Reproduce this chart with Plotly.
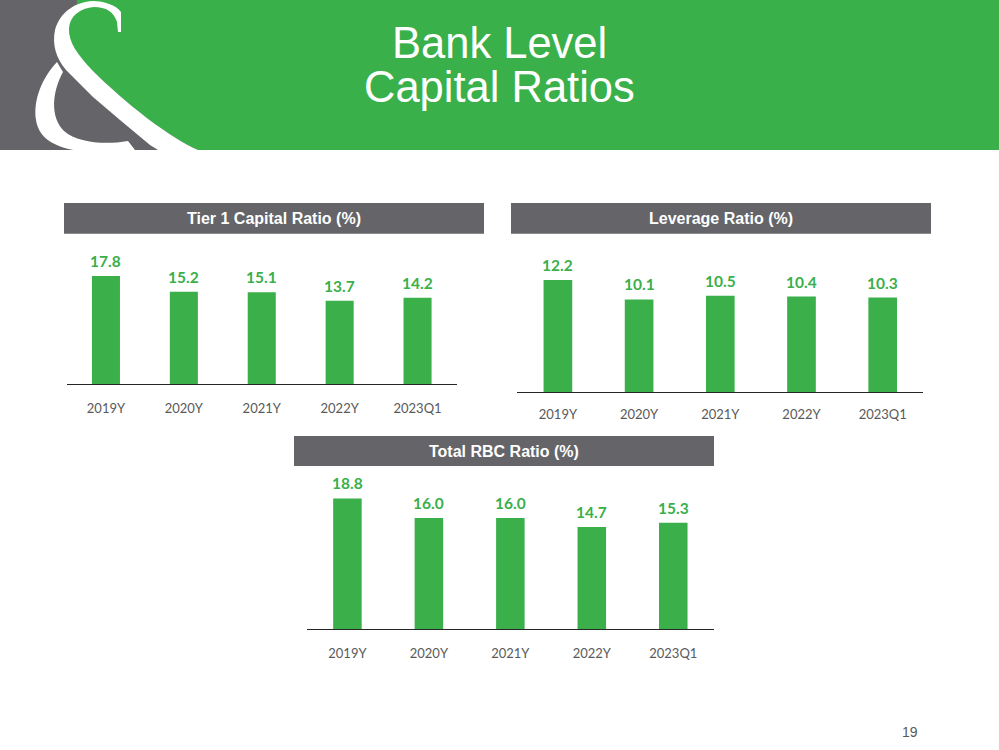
import plotly.graph_objects as go

W, H = 999, 750

# ---------------- data ----------------
categories = ["2019Y", "2020Y", "2021Y", "2022Y", "2023Q1"]
tier1_ratio = [17.8, 15.2, 15.1, 13.7, 14.2]
leverage_ratio = [12.2, 10.1, 10.5, 10.4, 10.3]
total_rbc_ratio = [18.8, 16.0, 16.0, 14.7, 15.3]

chart_titles = ["Tier 1 Capital Ratio (%)", "Leverage Ratio (%)", "Total RBC Ratio (%)"]
page_title = ["Bank Level", "Capital Ratios"]
page_number = "19"

# ---------------- style ----------------
GREEN = "#3AAF4A"
HEAD_GREEN = "#3AB04A"
GRAY = "#646469"
TICK_GRAY = "#595959"
LABEL_FONT = "Lato"
SANS = "Liberation Sans, Arial, sans-serif"


def fx(x):
    return x / W


def fy(y):
    return 1 - y / H


def path(cmds):
    s = ""
    for c, pts in cmds:
        s += c + " " + " ".join(f"{fx(x):.5f},{fy(y):.5f}" for x, y in pts) + " "
    return s + "Z"


fig = go.Figure()

# subplot geometry in pixels: (x0, x1, baseline_y, top_y, ymax, ticklen, barwidth)
geoms = [
    (67, 456.5, 384.0, 262.6, 20, 12, 0.36),
    (517.3, 923.3, 392.3, 263.5, 14, 10, 0.353),
    (306.7, 714.0, 629.3, 490.1, 20, 12, 0.35),
]
series = [tier1_ratio, leverage_ratio, total_rbc_ratio]

layout_axes = {}
annotations = []
for i, (vals, g) in enumerate(zip(series, geoms)):
    x0, x1, yb, yt, ymax, tl, bw = g
    n = "" if i == 0 else str(i + 1)
    fig.add_trace(go.Bar(
        x=categories, y=vals,
        xaxis="x" + n, yaxis="y" + n,
        marker=dict(color=GREEN, line=dict(width=0)),
        width=bw,
        showlegend=False,
        hoverinfo="skip",
    ))
    # value labels placed through the data axes
    for c, v in zip(categories, vals):
        annotations.append(dict(
            x=c, y=v, xref="x" + n, yref="y" + n,
            text=f"{v:.1f}", showarrow=False,
            xanchor="center", yanchor="middle", yshift=15,
            font=dict(family=LABEL_FONT, size=15.5, color=GREEN, weight="bold"),
        ))
    layout_axes["xaxis" + n] = dict(
        domain=[fx(x0), fx(x1)], anchor="y" + n,
        showline=True, linecolor="#262626", linewidth=1,
        showgrid=False, zeroline=False,
        ticks="outside", ticklen=tl, tickcolor="rgba(0,0,0,0)",
        tickfont=dict(family=LABEL_FONT, size=13, color=TICK_GRAY),
        fixedrange=True,
    )
    layout_axes["yaxis" + n] = dict(
        domain=[fy(yb), fy(yt)], anchor="x" + n,
        range=[0, ymax], visible=False, showgrid=False, zeroline=False,
        fixedrange=True,
    )

shapes = []
# header band
shapes.append(dict(type="rect", xref="paper", yref="paper",
                   x0=0, x1=1, y0=fy(150), y1=1, fillcolor=GRAY, line=dict(width=0)))
green_path = path([
    ("M", [(77, 0)]), ("L", [(999, 0)]), ("L", [(999, 150)]), ("L", [(198, 150)]),
    ("C", [(170, 138), (125, 103), (92, 70)]),
    ("L", [(75, 60)]),
    ("C", [(62, 50), (60, 35), (63, 22)]),
    ("C", [(66, 12), (72, 6), (77, 5)]),
])
shapes.append(dict(type="path", xref="paper", yref="paper", path=green_path,
                   fillcolor=HEAD_GREEN, line=dict(width=0)))
# ampersand: top hook + diagonal
amp1 = path([
    ("M", [(121, 12)]),
    ("C", [(116, 5), (104, 1), (93, 1)]),
    ("C", [(75, 2), (60, 12), (55, 30)]),
    ("C", [(52, 45), (56, 58), (66, 70)]),
    ("L", [(93, 97)]), ("L", [(120, 120)]), ("L", [(150, 145)]), ("L", [(158, 150)]),
    ("L", [(198, 150)]),
    ("C", [(170, 138), (125, 103), (92, 70)]),
    ("C", [(78, 55), (68, 42), (69, 28)]),
    ("C", [(70, 16), (80, 8), (94, 7)]),
    ("C", [(106, 7), (114, 12), (117, 22)]),
    ("L", [(118, 32)]), ("L", [(121, 32)]),
])
shapes.append(dict(type="path", xref="paper", yref="paper", path=amp1,
                   fillcolor="white", line=dict(width=0)))
# ampersand: lower bowl
amp2 = path([
    ("M", [(57, 62)]),
    ("C", [(42, 78), (33, 100), (36, 120)]),
    ("C", [(39, 140), (58, 150), (90, 152)]),
    ("L", [(135, 150)]), ("L", [(128, 141)]),
    ("C", [(105, 145), (78, 143), (64, 131)]),
    ("C", [(50, 117), (52, 92), (63, 72)]),
])
shapes.append(dict(type="path", xref="paper", yref="paper", path=amp2,
                   fillcolor="white", line=dict(width=0)))

# chart header bars
head_boxes = [(64, 484, 203, 233.7), (511, 931, 203, 233.7), (294, 714, 436, 466)]
for (x0, x1, y0, y1) in head_boxes:
    shapes.append(dict(type="rect", xref="paper", yref="paper",
                       x0=fx(x0), x1=fx(x1), y0=fy(y1), y1=fy(y0),
                       fillcolor=GRAY, line=dict(width=0)))

for t, (x0, x1, y0, y1) in zip(chart_titles, head_boxes):
    annotations.append(dict(text=t, xref="paper", yref="paper",
                            x=fx((x0 + x1) / 2), y=fy((y0 + y1) / 2),
                            xanchor="center", yanchor="middle", showarrow=False,
                            font=dict(family=SANS, size=16, color="white", weight="bold")))
for t, yc in zip(page_title, [43, 87]):
    annotations.append(dict(text=t, xref="paper", yref="paper",
                            x=fx(499), y=fy(yc), xanchor="center", yanchor="middle",
                            showarrow=False,
                            font=dict(family=SANS, size=43.5, color="white")))
annotations.append(dict(text=page_number, xref="paper", yref="paper",
                        x=fx(910), y=fy(732), xanchor="center", yanchor="middle",
                        showarrow=False, font=dict(family=SANS, size=14, color=TICK_GRAY)))

fig.update_layout(
    width=W, height=H,
    margin=dict(l=0, r=0, t=0, b=0),
    paper_bgcolor="white", plot_bgcolor="rgba(0,0,0,0)",
    shapes=shapes, annotations=annotations,
    showlegend=False,
    **layout_axes,
)

fig.write_html("out.html", config={"displayModeBar": False},
               post_script="document.body.style.margin='0';document.body.style.overflow='hidden';")
